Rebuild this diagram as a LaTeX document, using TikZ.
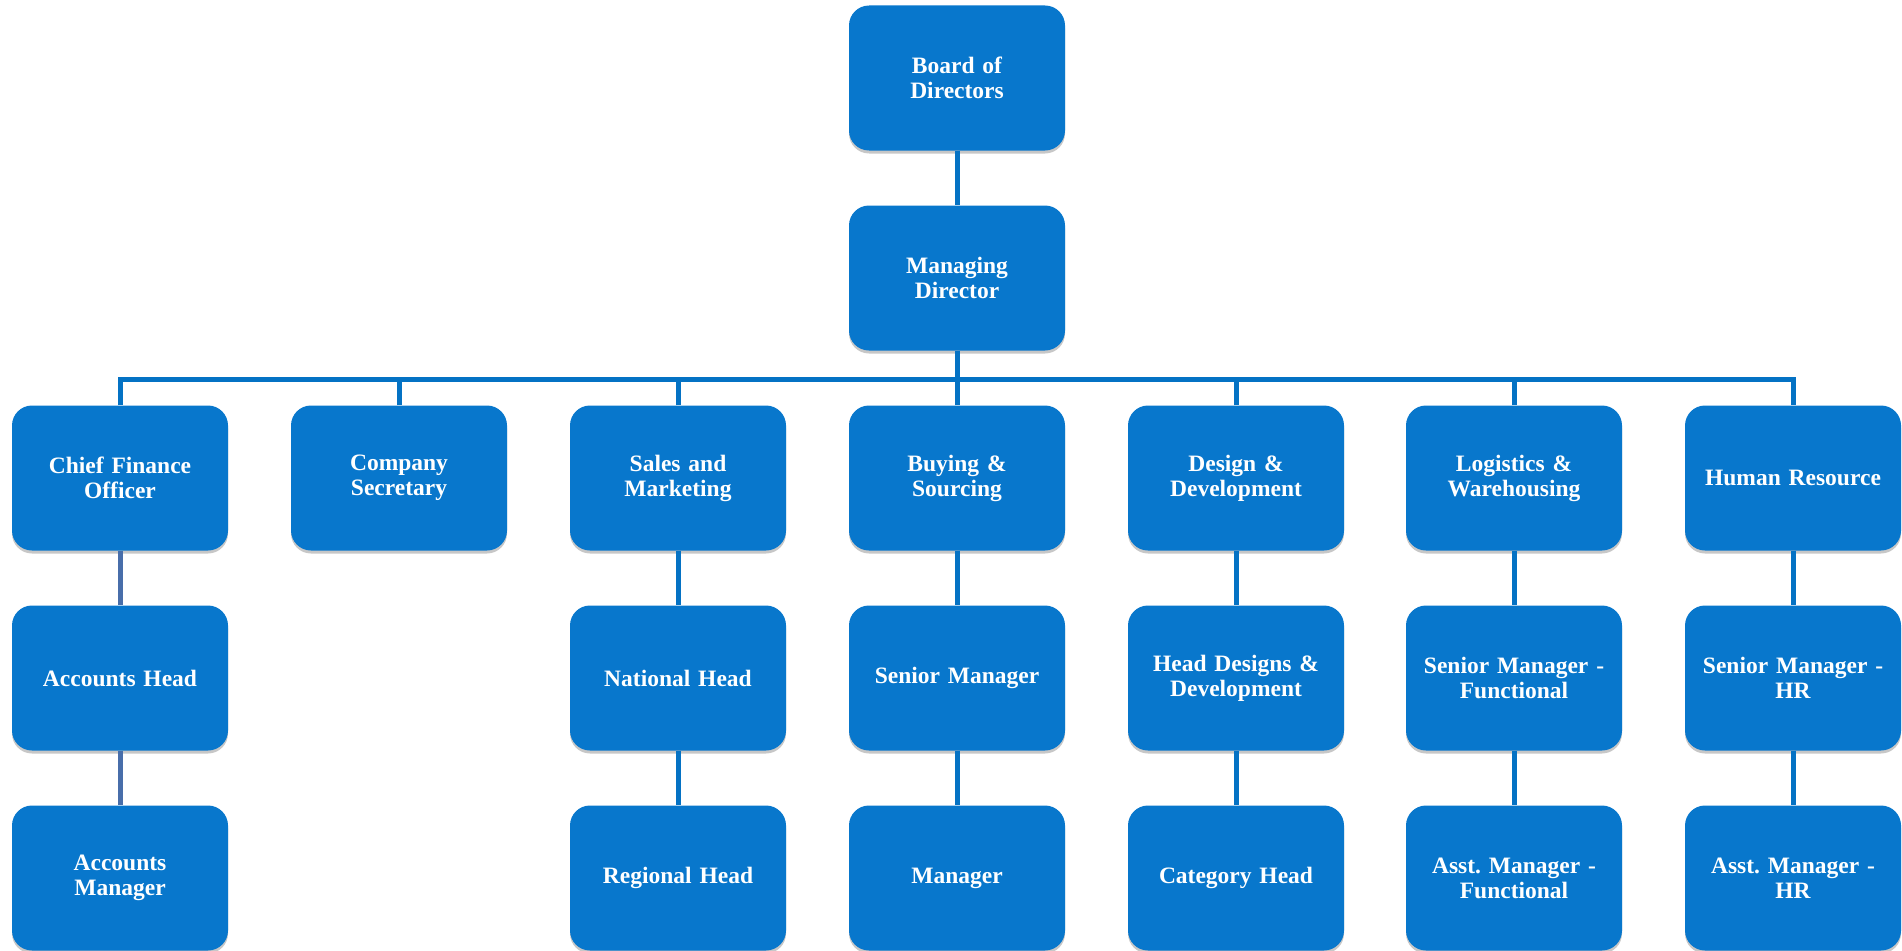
\documentclass[tikz,border=0pt]{standalone}
\usepackage{fontspec}
\setmainfont{Liberation Serif}
\usetikzlibrary{shadows}
\frenchspacing
\definecolor{boxblue}{RGB}{8,119,204}
\definecolor{linkblue}{RGB}{4,114,196}
\definecolor{cfoblue}{RGB}{72,110,170}
\tikzset{
  post/.style={fill=boxblue, rounded corners=20pt, minimum width=216pt,
    minimum height=145pt, text width=205pt, align=center, text=white,
    font=\bfseries\fontsize{23.5}{25}\selectfont,
    drop shadow={shadow xshift=0pt, shadow yshift=-3pt, opacity=.22, fill=black}},
  link/.style={draw=linkblue, line width=5pt},
  cfolink/.style={draw=cfoblue, line width=5pt}
}
\begin{document}
\begin{tikzpicture}[x=1pt,y=-1pt]
\useasboundingbox (0,0) rectangle (1902,950);
% top of the chart
\node[post] (board) at (957,78) {Board of\\Directors};
\node[post] (md) at (957,278) {Managing\\Director};
% department heads
\node[post] (cfo) at (120,478) {Chief Finance\\Officer};
\node[post] (secretary) at (399,478) {Company\\Secretary};
\node[post] (sales) at (678,478) {Sales and\\Marketing};
\node[post] (buying) at (957,478) {Buying \&\\Sourcing};
\node[post] (design) at (1236,478) {Design \&\\Development};
\node[post] (logistics) at (1514,478) {Logistics \&\\Warehousing};
\node[post] (hr) at (1793,478) {Human Resource};
% second level
\node[post] (acchead) at (120,678) {Accounts Head};
\node[post] (national) at (678,678) {National Head};
\node[post] (seniormgr) at (957,678) {Senior Manager};
\node[post] (headdesign) at (1236,678) {Head Designs \&\\Development};
\node[post] (seniorfunc) at (1514,678) {Senior Manager -\\Functional};
\node[post] (seniorhr) at (1793,678) {Senior Manager -\\HR};
% third level
\node[post] (accmgr) at (120,878) {Accounts\\Manager};
\node[post] (regional) at (678,878) {Regional Head};
\node[post] (manager) at (957,878) {Manager};
\node[post] (category) at (1236,878) {Category Head};
\node[post] (asstfunc) at (1514,878) {Asst. Manager -\\Functional};
\node[post] (assthr) at (1793,878) {Asst. Manager -\\HR};
% connectors
\coordinate (bus) at (957,379);
\draw[link] (board) -- (md);
\draw[link] (md) -- (bus);
\draw[link] (cfo.north) |- (bus) -| (hr.north);
\foreach \d in {secretary,sales,buying,design,logistics}
  \draw[link] (\d.north) -- (\d.north |- bus);
\draw[cfolink] (cfo) -- (acchead);
\draw[cfolink] (acchead) -- (accmgr);
\draw[link] (sales) -- (national);
\draw[link] (national) -- (regional);
\draw[link] (buying) -- (seniormgr);
\draw[link] (seniormgr) -- (manager);
\draw[link] (design) -- (headdesign);
\draw[link] (headdesign) -- (category);
\draw[link] (logistics) -- (seniorfunc);
\draw[link] (seniorfunc) -- (asstfunc);
\draw[link] (hr) -- (seniorhr);
\draw[link] (seniorhr) -- (assthr);
\end{tikzpicture}
\end{document}
